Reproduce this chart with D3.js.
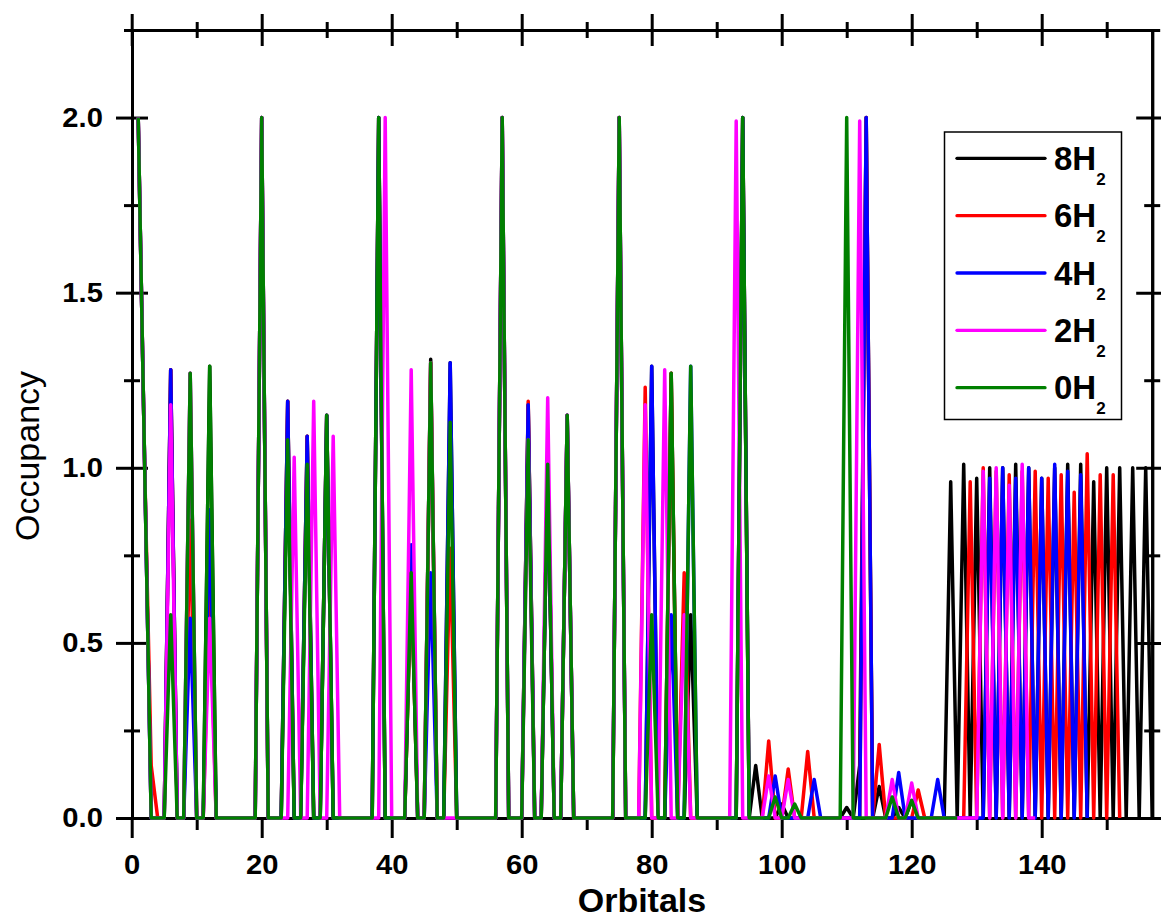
<!DOCTYPE html>
<html>
<head>
<meta charset="utf-8">
<script src="https://cdn.jsdelivr.net/npm/d3@7"></script>
<style>
  body { margin: 0; background: #fff; }
  svg { display: block; font-family: "Liberation Sans", Arial, sans-serif; }
</style>
</head>
<body>
<script>
// Occupancy per orbital, first value = orbital 1
const occ8H2 = [
  2.0, 1.0, 0, 0, 0, 1.28, 0, 0, 1.27, 0,
  0, 1.29, 0, 0, 0, 0, 0, 0, 0, 2.0,
  0, 0, 0, 1.19, 0, 0, 1.09, 0, 0, 1.15,
  0, 0, 0, 0, 0, 0, 0, 2.0, 0, 0,
  0, 0, 0.70, 0, 0, 1.31, 0, 0, 1.30, 0,
  0, 0, 0, 0, 0, 0, 2.0, 0, 0, 0,
  1.18, 0, 0, 1.01, 0, 0, 1.15, 0, 0, 0,
  0, 0, 0, 0, 2.0, 0, 0, 0, 0, 1.29,
  0, 0, 1.27, 0, 0, 0.58, 0, 0, 0, 0,
  0, 0, 0, 2.0, 0, 0.15, 0, 0, 0, 0.04,
  0, 0, 0, 0, 0, 0, 0, 0, 0, 0.03,
  0, 0.15, 2.0, 0, 0.09, 0, 0, 0.03, 0, 0.05,
  0, 0, 0, 0, 0, 0.96, 0, 1.01, 0, 0.97,
  0, 1.00, 0, 1.00, 0, 1.01, 0, 1.00, 0, 0.97,
  0, 1.00, 0, 1.01, 0, 1.01, 0, 0.96, 0, 1.00,
  0, 1.00, 0, 1.00, 0, 1.00, 0
];
const occ6H2 = [
  2.0, 1.0, 0.15, 0, 0, 1.28, 0, 0, 0.85, 0,
  0, 0.67, 0, 0, 0, 0, 0, 0, 0, 2.0,
  0, 0, 0, 1.19, 0, 0, 1.09, 0, 0, 1.15,
  0, 0, 0, 0, 0, 0, 0, 2.0, 0, 0,
  0, 0, 0.70, 0, 0, 1.30, 0, 0, 0.77, 0,
  0, 0, 0, 0, 0, 0, 2.0, 0, 0, 0,
  1.19, 0, 0, 1.01, 0, 0, 1.15, 0, 0, 0,
  0, 0, 0, 0, 2.0, 0, 0, 0, 1.23, 0,
  0, 0, 1.27, 0, 0.70, 0, 0, 0, 0, 0,
  0, 0, 0, 2.0, 0, 0, 0, 0.22, 0, 0,
  0.14, 0, 0, 0.19, 0, 0, 0, 0, 0, 0,
  0, 0, 2.0, 0, 0.21, 0, 0, 0, 0, 0,
  0.08, 0, 0, 0, 0, 0, 0, 0, 0.96, 0,
  1.00, 0, 0.99, 0, 0.98, 0, 0.99, 0, 0.99, 0,
  0.97, 0, 0.98, 0, 0.93, 0, 1.04, 0, 0.98, 0,
  0.98, 0
];
const occ4H2 = [
  2.0, 1.0, 0, 0, 0, 1.28, 0, 0, 0.57, 0,
  0, 0.88, 0, 0, 0, 0, 0, 0, 0, 2.0,
  0, 0, 0, 1.19, 0, 0, 1.09, 0, 0, 1.15,
  0, 0, 0, 0, 0, 0, 0, 2.0, 0, 0,
  0, 0, 0.78, 0, 0, 0.70, 0, 0, 1.30, 0,
  0, 0, 0, 0, 0, 0, 2.0, 0, 0, 0,
  1.18, 0, 0, 1.01, 0, 0, 1.15, 0, 0, 0,
  0, 0, 0, 0, 2.0, 0, 0, 0, 0, 1.29,
  0, 0, 0.58, 0, 0, 1.29, 0, 0, 0, 0,
  0, 0, 0, 2.0, 0, 0, 0, 0, 0.12, 0,
  0, 0, 0, 0, 0.11, 0, 0, 0, 0, 0,
  0, 0, 2.0, 0, 0, 0, 0, 0.13, 0, 0,
  0, 0, 0, 0.11, 0, 0, 0, 0, 0, 0,
  0, 0.97, 0, 1.00, 0, 0.97, 0, 1.00, 0, 0.97,
  0, 1.01, 0, 0.99, 0, 0.98, 0
];
const occ2H2 = [
  2.0, 1.0, 0, 0, 0, 1.18, 0, 0, 1.27, 0,
  0, 0.57, 0, 0, 0, 0, 0, 0, 0, 2.0,
  0, 0, 0, 0, 1.03, 0, 0, 1.19, 0, 0,
  1.09, 0, 0, 0, 0, 0, 0, 0, 2.0, 0,
  0, 0, 1.28, 0, 0, 1.30, 0, 0, 0, 0,
  0, 0, 0, 0, 0, 0, 2.0, 0, 0, 0,
  1.08, 0, 0, 1.20, 0, 0, 1.15, 0, 0, 0,
  0, 0, 0, 0, 2.0, 0, 0, 0, 1.18, 0,
  0, 1.28, 0, 0, 0.58, 0, 0, 0, 0, 0,
  0, 0, 1.99, 0, 0, 0, 0, 0.12, 0, 0,
  0.11, 0, 0, 0, 0, 0, 0, 0, 0, 0,
  0, 1.99, 0, 0, 0, 0, 0.11, 0, 0, 0.10,
  0, 0, 0, 0, 0, 0, 0, 0, 0, 0,
  0.99, 0, 1.00, 0, 0.95, 0, 1.01, 0, 0
];
const occ0H2 = [
  2.0, 1.0, 0, 0, 0, 0.58, 0, 0, 1.27, 0,
  0, 1.29, 0, 0, 0, 0, 0, 0, 0, 2.0,
  0, 0, 0, 1.08, 0, 0, 1.01, 0, 0, 1.15,
  0, 0, 0, 0, 0, 0, 0, 2.0, 0, 0,
  0, 0, 0.70, 0, 0, 1.30, 0, 0, 1.13, 0,
  0, 0, 0, 0, 0, 0, 2.0, 0, 0, 0,
  1.08, 0, 0, 1.01, 0, 0, 1.15, 0, 0, 0,
  0, 0, 0, 0, 2.0, 0, 0, 0, 0, 0.58,
  0, 0, 1.27, 0, 0, 1.29, 0, 0, 0, 0,
  0, 0, 0, 2.0, 0, 0, 0, 0, 0.06, 0,
  0, 0.04, 0, 0, 0, 0, 0, 0, 0, 2.0,
  0, 0, 0, 0, 0, 0, 0.06, 0, 0, 0.05,
  0, 0, 0, 0, 0, 0, 0
];

const seriesLabels = ["8H", "6H", "4H", "2H", "0H"];
const seriesColors = ["#000000", "#ff0000", "#0000ff", "#ff00ff", "#008000"];
const xMajorTicks = [0, 20, 40, 60, 80, 100, 120, 140];
const xMinorTicks = [10, 30, 50, 70, 90, 110, 130, 150];
const yMajorTicks = [0, 0.5, 1.0, 1.5, 2.0];
const yMinorTicks = [0.25, 0.75, 1.25, 1.75, 2.25];

const width = 1161, height = 920;
const plot = {left: 131.7, right: 1152.2, top: 30, bottom: 818};

const svg = d3.select("body").append("svg")
  .attr("width", width)
  .attr("height", height);

const x = d3.scaleLinear().domain([0, 157]).range([plot.left, plot.right]);
const y = d3.scaleLinear().domain([0, 2.25]).range([plot.bottom, plot.top]);

// axis helper: size = outward tick length, inner = inward part
function drawAxis(gen, tx, ty, ticks, size, inner, labels, side) {
  const g = svg.append("g")
    .attr("transform", `translate(${tx},${ty})`)
    .call(gen.tickValues(ticks).tickSize(size).tickSizeOuter(0)
      .tickFormat(labels ? labels : () => ""));
  g.select(".domain").attr("stroke-width", 3).attr("stroke-linecap", "square");
  g.selectAll(".tick line").attr("stroke-width", 3);
  if (inner) {
    if (side === "left") g.selectAll(".tick line").attr("x1", inner);
    if (side === "right") g.selectAll(".tick line").attr("x1", -inner);
    if (side === "top") g.selectAll(".tick line").attr("y1", inner);
  }
  return g;
}

// bottom
const xb = drawAxis(d3.axisBottom(x), 0, plot.bottom, xMajorTicks, 20, 0, d => d, "bottom");
xb.selectAll("text").attr("y", 37).attr("font-size", 27).attr("font-weight", "bold")
  .attr("font-family", "Liberation Sans, Arial, sans-serif").attr("fill", "#000")
  .attr("transform", "scale(1.08,1)");
drawAxis(d3.axisBottom(x), 0, plot.bottom, xMinorTicks, 12, 0, null, "bottom");
// top
drawAxis(d3.axisTop(x), 0, plot.top, xMajorTicks, 16, 16, null, "top");
drawAxis(d3.axisTop(x), 0, plot.top, xMinorTicks, 8, 8, null, "top");
// left
const yl = drawAxis(d3.axisLeft(y), 132, 0, yMajorTicks, 16, 16, d3.format(".1f"), "left");
yl.selectAll("text").attr("x", -27).attr("font-size", 27).attr("font-weight", "bold")
  .attr("font-family", "Liberation Sans, Arial, sans-serif").attr("fill", "#000")
  .attr("transform", "scale(1.08,1)");
drawAxis(d3.axisLeft(y), 132, 0, yMinorTicks, 8, 8, null, "left");
// right
drawAxis(d3.axisRight(y), plot.right, 0, yMajorTicks, 16, 16, null, "right");
drawAxis(d3.axisRight(y), plot.right, 0, yMinorTicks, 8, 8, null, "right");

// data lines, 8H2 first so 0H2 ends on top
const series = [occ8H2, occ6H2, occ4H2, occ2H2, occ0H2];
const line = d3.line()
  .x((d, i) => x(i + 1))
  .y(d => y(d));

svg.append("g")
  .selectAll("path")
  .data(series)
  .join("path")
    .attr("d", line)
    .attr("fill", "none")
    .attr("stroke", (d, i) => seriesColors[i])
    .attr("stroke-width", 3.5)
    .attr("stroke-linejoin", "round");

// axis titles
svg.append("text")
  .attr("x", (plot.left + plot.right) / 2)
  .attr("y", 912)
  .attr("text-anchor", "middle")
  .attr("font-size", 34)
  .attr("font-weight", "bold")
  .text("Orbitals");

svg.append("text")
  .attr("transform", "translate(39,456) rotate(-90)")
  .attr("text-anchor", "middle")
  .attr("font-size", 34)
  .text("Occupancy");

// legend
const legend = svg.append("g");
legend.append("rect")
  .attr("x", 944.5).attr("y", 132)
  .attr("width", 177).attr("height", 287.5)
  .attr("fill", "#fff")
  .attr("stroke", "#000")
  .attr("stroke-width", 1.5);

seriesLabels.forEach((lab, i) => {
  const ly = 158.3 + i * 57.35;
  legend.append("line")
    .attr("x1", 957).attr("x2", 1045)
    .attr("y1", ly).attr("y2", ly)
    .attr("stroke", seriesColors[i])
    .attr("stroke-width", 3.3)
    .attr("stroke-linecap", "round");
  const t = legend.append("text")
    .attr("x", 1054)
    .attr("y", ly + 11.7)
    .attr("font-size", 33)
    .attr("font-weight", "bold");
  t.append("tspan").text(lab);
  t.append("tspan").attr("dy", 15).attr("font-size", 17).text("2");
});
</script>
</body>
</html>
